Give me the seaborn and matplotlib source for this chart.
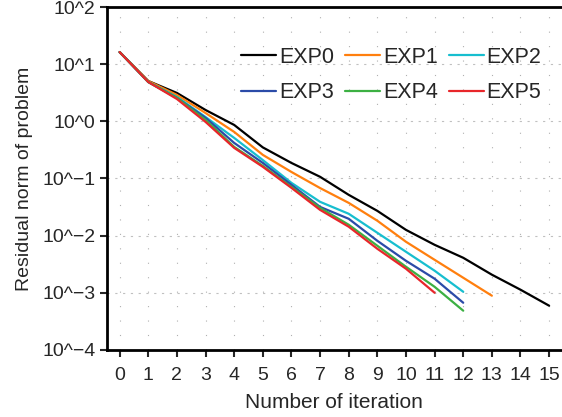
import matplotlib
matplotlib.use("Agg")
import matplotlib.pyplot as plt
import seaborn as sns
import numpy as np
import pandas as pd

# residual norms
exp0 = [16.3, 5.08, 3.14, 1.58, 0.865, 0.350, 0.187, 0.107, 0.0517, 0.0271, 0.0126, 0.00690, 0.00409, 0.00207, 0.00113, 0.000593]
exp1 = [16.3, 5.08, 2.90, 1.40, 0.653, 0.259, 0.130, 0.0680, 0.0374, 0.0182, 0.00780, 0.00377, 0.00183, 0.000887]
exp2 = [16.3, 4.88, 2.67, 1.19, 0.513, 0.210, 0.0838, 0.0390, 0.0241, 0.0112, 0.00521, 0.00243, 0.00104]
exp3 = [16.3, 4.88, 2.57, 1.15, 0.419, 0.187, 0.0773, 0.0318, 0.0197, 0.00811, 0.00362, 0.00176, 0.000668]
exp4 = [16.3, 4.88, 2.57, 1.06, 0.357, 0.166, 0.0713, 0.0306, 0.0155, 0.00664, 0.00285, 0.00127, 0.000485]
exp5 = [16.3, 4.88, 2.46, 0.977, 0.343, 0.160, 0.0685, 0.0282, 0.0143, 0.00588, 0.00263, 0.00100]

names = ['EXP0', 'EXP1', 'EXP2', 'EXP3', 'EXP4', 'EXP5']
colors = ['#000000', '#ff7f0e', '#17becf', '#2b4ba8', '#3cb043', '#e8262a']
x_ticks = list(range(16))
y_ticks = [1e2, 1e1, 1e0, 1e-1, 1e-2, 1e-3, 1e-4]
y_labels = ['10^2', '10^1', '10^0', '10^\u22121', '10^\u22122', '10^\u22123', '10^\u22124']

rows = []
for name, vals in zip(names, [exp0, exp1, exp2, exp3, exp4, exp5]):
    for i, v in enumerate(vals):
        rows.append({'iter': i, 'res': v, 'exp': name})
df = pd.DataFrame(rows)

sns.set_style("ticks")
plt.rcParams['font.family'] = ['Liberation Sans', 'DejaVu Sans']

fig = plt.figure(figsize=(5.62, 4.17), dpi=100)
ax = fig.add_axes([0.19, 0.161, 0.81, 0.822])

sns.lineplot(data=df, x='iter', y='res', hue='exp', palette=colors,
             linewidth=1.6, ax=ax, legend=False)
ax.set_yscale('log')
ax.set_xlim(-0.45, 15.45)
ax.set_ylim(1e-4, 1e2)

ax.set_xticks(x_ticks)
ax.set_xticklabels([str(t) for t in x_ticks], fontsize=14)
ax.set_yticks(y_ticks)
ax.set_yticklabels(y_labels, fontsize=14)
ax.yaxis.set_minor_locator(matplotlib.ticker.NullLocator())
ax.tick_params(axis='both', direction='out', length=5, width=1.5)
ax.tick_params(axis='x', pad=7)
ax.tick_params(axis='y', pad=3)

for xv in x_ticks:
    ax.axvline(xv, color='#b0b0b0', linewidth=0.8, linestyle=(0, (1, 12)), zorder=0)
for yv in y_ticks[1:-1]:
    ax.axhline(yv, color='#c0c0c0', linewidth=0.8, linestyle=(0, (2, 5)), zorder=0)

for side in ['left', 'bottom', 'top']:
    ax.spines[side].set_linewidth(2)
    ax.spines[side].set_color('black')
ax.spines['right'].set_visible(False)

ax.set_xlabel('Number of iteration', fontsize=15, labelpad=7)
ax.set_ylabel('Residual norm of problem', fontsize=14, labelpad=7)

handles = [plt.Line2D([], [], color=c, linewidth=1.6) for c in colors]
order = [0, 3, 1, 4, 2, 5]
ax.legend([handles[i] for i in order], [names[i] for i in order],
          ncol=3, frameon=False, fontsize=15.5, loc='upper right',
          bbox_to_anchor=(0.955, 0.884), borderpad=0, borderaxespad=0,
          handlelength=1.65, handletextpad=0.12,
          columnspacing=0.5, labelspacing=0.68)

fig.savefig('out.png', dpi=100)
